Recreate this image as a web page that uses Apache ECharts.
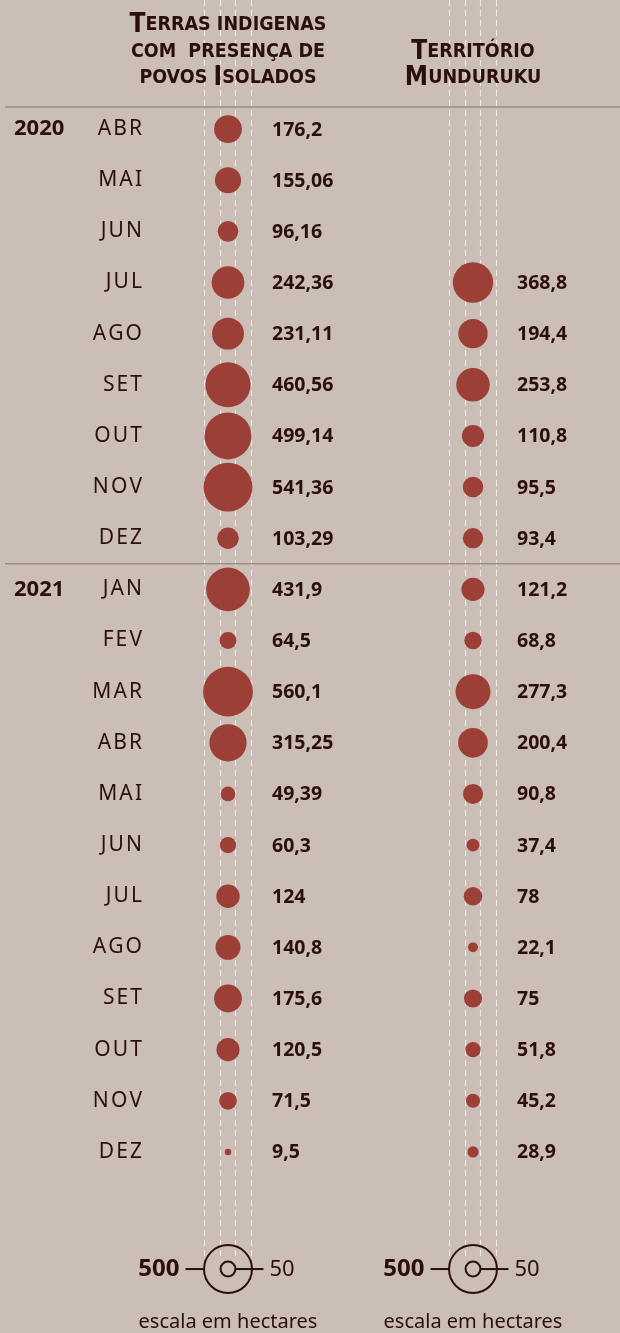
<!DOCTYPE html>
<html>
<head>
<meta charset="utf-8">
<script src="https://cdn.jsdelivr.net/npm/echarts@6/dist/echarts.min.js"></script>
<style>
  html, body { margin: 0; padding: 0; background: #cbbeb6; }
  #chart { width: 620px; height: 1333px; }
</style>
</head>
<body>
<div id="chart"></div>
<script>
// rows: months from abr/2020 to dez/2021
const months = ['ABR', 'MAI', 'JUN', 'JUL', 'AGO', 'SET', 'OUT', 'NOV', 'DEZ',
  'JAN', 'FEV', 'MAR', 'ABR', 'MAI', 'JUN', 'JUL', 'AGO', 'SET', 'OUT', 'NOV', 'DEZ'];
const yearStarts = { 0: '2020', 9: '2021' };
// hectares
const isolados = [176.2, 155.06, 96.16, 242.36, 231.11, 460.56, 499.14, 541.36, 103.29,
  431.9, 64.5, 560.1, 315.25, 49.39, 60.3, 124, 140.8, 175.6, 120.5, 71.5, 9.5];
const munduruku = [null, null, null, 368.8, 194.4, 253.8, 110.8, 95.5, 93.4,
  121.2, 68.8, 277.3, 200.4, 90.8, 37.4, 78, 22.1, 75, 51.8, 45.2, 28.9];
const columns = ['isolados', 'munduruku'];
const scaleValues = [500, 50];

const DARK = '#2b0e0e';
const RED = '#9c3f37';
const K = 2.1; // diameter = K * sqrt(ha)
const sizeOf = (v) => K * Math.sqrt(v);
const fmt = (v) => String(v).replace('.', ',');
const CONDENSED = "'DejaVu Sans Condensed', 'Liberation Sans Narrow', 'Roboto Condensed', 'Noto Sans', sans-serif";

const headerRich = {
  c: { fontFamily: CONDENSED, fontWeight: 'bold', fontSize: 26, color: DARK, lineHeight: 26.5 },
  s: { fontFamily: CONDENSED, fontWeight: 'bold', fontSize: 19.5, color: DARK, lineHeight: 26.5 },
};
const headers = {
  isolados: '{c|T}{s|ERRAS INDIGENAS}\n{s|COM  PRESENÇA DE}\n{s|POVOS }{c|I}{s|SOLADOS}',
  munduruku: '{c|T}{s|ERRITÓRIO}\n{c|M}{s|UNDURUKU}',
};

function toData(arr, col) {
  return arr.map((v, i) => (v == null ? null : [col, i, v])).filter((d) => d);
}

function makeSeries(arr, col) {
  return {
    type: 'scatter',
    data: toData(arr, col),
    symbolSize: (d) => sizeOf(d[2]),
    itemStyle: { color: RED, opacity: 1 },
    silent: true,
    label: {
      show: true,
      position: 'inside',
      align: 'left',
      offset: [44, 1],
      formatter: (p) => fmt(p.data[2]),
      fontFamily: 'Noto Sans',
      fontWeight: 'bold',
      fontSize: 19.5,
      color: DARK,
    },
    z: 3,
  };
}

let chartDom = document.getElementById('chart');
let myChart = echarts.init(chartDom, null, { renderer: 'canvas' });

let option = {
  backgroundColor: '#cbbeb6',
  animation: false,
  grid: { left: 105.5, right: 24.5, top: 103.5, height: 1074 },
  xAxis: {
    type: 'category',
    position: 'top',
    data: columns,
    axisLine: { show: false },
    axisTick: { show: false },
    splitLine: { show: false },
    axisLabel: {
      margin: 12,
      interval: 0,
      align: 'center',
      formatter: (v) => headers[v],
      rich: headerRich,
    },
  },
  yAxis: {
    type: 'category',
    inverse: true,
    data: months.map((m, i) => String(i)),
    axisLine: { show: false },
    axisTick: { show: false },
    splitLine: { show: false },
    axisLabel: {
      interval: 0,
      margin: -36.5,
      align: 'right',
      formatter: (v, i) => '{y|' + (yearStarts[i] || ' ') + '}{m|' + months[i].split('').join('\u200a') + '}',
      rich: {
        y: { width: 76, align: 'left', fontFamily: 'Noto Sans', fontWeight: 'bold', fontSize: 22, color: DARK },
        m: { width: 52, align: 'right', fontFamily: 'Noto Sans', fontSize: 21, color: DARK },
      },
    },
  },
  series: [makeSeries(isolados, 0), makeSeries(munduruku, 1)],
};

option && myChart.setOption(option);

// decoration drawn from the axes' own positions
function drawDecor() {
  const px = (c, r) => myChart.convertToPixel({ gridIndex: 0 }, [c, r]);
  const step = px(0, 1)[1] - px(0, 0)[1];
  const firstY = px(0, 0)[1];
  const lastY = px(0, months.length - 1)[1];
  const legendY = lastY + step * 2.29;
  const rBig = sizeOf(scaleValues[0]) / 2;
  const rSmall = sizeOf(scaleValues[1]) / 2;
  const elements = [];

  // separators
  [firstY - step * 0.43, (px(0, 8)[1] + px(0, 9)[1]) / 2].forEach((y) => {
    elements.push({
      type: 'line', z: 1,
      shape: { x1: 5, y1: y, x2: 620, y2: y },
      style: { stroke: '#9d8d85', lineWidth: 1.5 },
    });
  });

  columns.forEach((c, ci) => {
    const cx = px(ci, 0)[0];
    [-rBig, -rSmall, rSmall, rBig].forEach((dx) => {
      elements.push({
        type: 'line', z: 0,
        shape: { x1: cx + dx, y1: 0, x2: cx + dx, y2: legendY - 11 },
        style: { stroke: '#f4efeb', lineWidth: 1, lineDash: [6, 4] },
      });
    });
    elements.push(
      { type: 'circle', z: 5, shape: { cx: cx, cy: legendY, r: rBig + 0.5 }, style: { fill: 'none', stroke: DARK, lineWidth: 2 } },
      { type: 'circle', z: 5, shape: { cx: cx, cy: legendY, r: rSmall }, style: { fill: 'none', stroke: DARK, lineWidth: 2 } },
      { type: 'line', z: 5, shape: { x1: cx - rBig - 19, y1: legendY, x2: cx - rBig, y2: legendY }, style: { stroke: DARK, lineWidth: 2 } },
      { type: 'line', z: 5, shape: { x1: cx + rSmall, y1: legendY, x2: cx + rBig + 12, y2: legendY }, style: { stroke: DARK, lineWidth: 2 } },
      {
        type: 'text', z: 5, x: cx - rBig - 25, y: legendY,
        style: { text: String(scaleValues[0]), align: 'right', verticalAlign: 'middle', fontFamily: 'Noto Sans', fontWeight: 'bold', fontSize: 24, fill: DARK },
      },
      {
        type: 'text', z: 5, x: cx + rBig + 18, y: legendY + 1,
        style: { text: String(scaleValues[1]), align: 'left', verticalAlign: 'middle', fontFamily: 'Noto Sans', fontSize: 22, fill: DARK },
      },
      {
        type: 'text', z: 5, x: cx, y: legendY + 53,
        style: { text: 'escala em hectares', align: 'center', verticalAlign: 'middle', fontFamily: 'Noto Sans', fontSize: 20, fill: DARK },
      }
    );
  });

  myChart.setOption({ graphic: elements });
}
drawDecor();
</script>
</body>
</html>
